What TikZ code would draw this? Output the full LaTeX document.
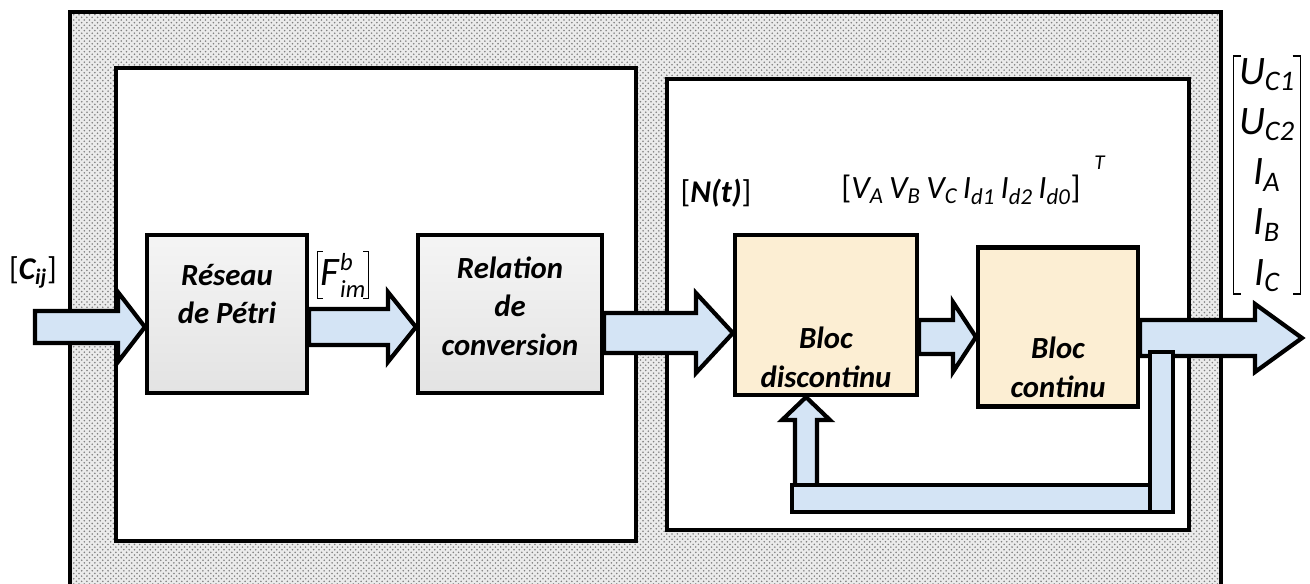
\documentclass[tikz,border=0pt]{standalone}
\usepackage{fontspec}
\setmainfont{Carlito}
\usetikzlibrary{calc, patterns}

\definecolor{flowblue}{RGB}{212,228,245}
\definecolor{blocbeige}{RGB}{252,238,211}

% Wide block arrow: from, tip, half shaft, half head, head length.
\newcommand{\blockarrow}[5]{%
    \draw[flowarrow] ($(#1)+(0,-#3)$) -- ($(#2)+(-#5,-#3)$)
        -- ($(#2)+(-#5,-#4)$) -- (#2) -- ($(#2)+(-#5,#4)$)
        -- ($(#2)+(-#5,#3)$) -- ($(#1)+(0,#3)$) -- cycle;
}

\begin{document}
\begin{tikzpicture}[%
        x = 0.02cm, y = -0.02cm,
        frame/.style = {draw, line width = 2.4pt},
        marblebox/.style = {%
            draw, line width = 2.4pt, inner sep = 0pt,
            top color = gray!8, bottom color = gray!22
        },
        beigebox/.style = {%
            draw, line width = 2.4pt, inner sep = 0pt, fill = blocbeige
        },
        flowarrow/.style = {draw, line width = 2.4pt, fill = flowblue, line join = miter},
        blocktext/.style = {%
            align = center,
            font = \fontsize{17.5}{22}\selectfont\bfseries\itshape
        },
        sig/.style = {inner sep = 1pt, font = \fontsize{18}{20}\selectfont},
        bracket/.style = {line width = 0.8pt}
    ]

        \useasboundingbox (0,0) rectangle (1310,584);

        % Dotted outer frame and the two white sub-systems.
        \draw[frame, preaction = {fill = gray!16}, pattern = crosshatch dots, pattern color = gray]
            (70,12) rectangle (1221,620);
        \draw[frame, fill = white] (116,68) rectangle (636,541);
        \draw[frame, fill = white] (667,79) rectangle (1189,530);

        % Blocks.
        \node[marblebox, minimum width = 3.2cm, minimum height = 3.16cm]
            (petri) at (227,314) {};
        \node[marblebox, minimum width = 3.68cm, minimum height = 3.16cm]
            (conv) at (510,314) {};
        \node[beigebox, minimum width = 3.64cm, minimum height = 3.2cm]
            (disc) at (826,315) {};
        \node[beigebox, minimum width = 3.2cm, minimum height = 3.18cm]
            (cont) at (1058,327) {};

        % End points of the arrows.
        \coordinate (cin)   at (35,327);
        \coordinate (a1)    at ($(petri.west)+(0,13)$);
        \coordinate (a2s)   at ($(petri.east)+(0,13)$);
        \coordinate (a2)    at ($(conv.west)+(0,13)$);
        \coordinate (a3s)   at ($(conv.east)+(0,19)$);
        \coordinate (a3)    at ($(disc.west)+(0,18)$);
        \coordinate (a4s)   at ($(disc.east)+(0,22)$);
        \coordinate (a4)    at ($(cont.west)+(0,10)$);
        \coordinate (a5s)   at ($(cont.east)+(0,11)$);
        \coordinate (cout)  at (1302,338);

        \blockarrow{cin}{a1}{16}{35}{27}
        \blockarrow{a2s}{a2}{18}{35}{28}
        \blockarrow{a3s}{a3}{20}{40}{37}
        \blockarrow{a4s}{a4}{17}{35}{23}
        \blockarrow{a5s}{cout}{18}{34}{47}

        % Feedback loop back to the discontinuous block.
        \coordinate (fbtip) at ($(disc.south)+(-20,0)$);
        \draw[flowarrow] ($(fbtip)+(-11,90)$) -- ($(fbtip)+(-11,23)$)
            -- ($(fbtip)+(-24,23)$) -- (fbtip) -- ($(fbtip)+(24,23)$)
            -- ($(fbtip)+(11,23)$) -- ($(fbtip)+(11,90)$) -- cycle;
        \draw[flowarrow] (792,485) rectangle (1150,512);
        \draw[flowarrow] (1150,352) rectangle (1173,512);

        % Blocks again over the arrow tips, with their texts.
        \node[marblebox, minimum width = 3.2cm, minimum height = 3.16cm]
            at (petri) {};
        \node[marblebox, minimum width = 3.68cm, minimum height = 3.16cm]
            at (conv) {};
        \node[beigebox, minimum width = 3.64cm, minimum height = 3.2cm]
            at (disc) {};
        \node[beigebox, minimum width = 3.2cm, minimum height = 3.18cm]
            at (cont) {};
        \node[blocktext] (petritxt) at ($(petri)+(0,-20)$) {Réseau\\de Pétri};
        \node[blocktext] (convtxt)  at ($(conv)+(0,-8)$)   {Relation\\de\\conversion};
        \node[blocktext] (disctxt)  at ($(disc)+(0,42)$)   {Bloc\\discontinu};
        \node[blocktext] (conttxt)  at ($(cont)+(0,40)$)   {Bloc\\continu};

        % Signals.
        \node[sig] (cij) at (33,272) {[\textbf{\textit{C\textsubscript{ij}}}]};
        \node[sig] (nt)  at (716,193) {[\textbf{\textit{N(t)}}]};

        \node[sig, font = \fontsize{23}{24}\selectfont, inner xsep = 1.5pt, inner ysep = 0.5pt] (fim) at (343,275)
            {\textit{F}\rlap{\raisebox{0.8ex}{\fontsize{14}{14}\selectfont\textit{b}}}\raisebox{-0.6ex}{\fontsize{14}{14}\selectfont\textit{im}}};
        \draw[bracket] ($(fim.north west)+(5,0)$) -- (fim.north west)
            -- (fim.south west) -- ($(fim.south west)+(5,0)$);
        \draw[bracket] ($(fim.north east)+(-5,0)$) -- (fim.north east)
            -- (fim.south east) -- ($(fim.south east)+(-5,0)$);

        \node[sig, font = \fontsize{18.5}{20}\selectfont] (vvec) at (961,190)
            {[\textit{V\textsubscript{A}\,V\textsubscript{B}\,V\textsubscript{C}\,%
              I\textsubscript{d1}\,I\textsubscript{d2}\,I\textsubscript{d0}}]};
        \node[sig, font = \fontsize{12}{14}\selectfont] (vT) at (1100,163) {\textit{T}};

        \node[sig, align = center, font = \fontsize{23}{28.6}\selectfont\itshape, inner xsep = 3pt]
            (uvec) at (1267,175)
            {U\textsubscript{C1}\\U\textsubscript{C2}\\I\textsubscript{A}\\I\textsubscript{B}\\I\textsubscript{C}};
        \draw[bracket] ($(uvec.north west)+(8,0)$) -- (uvec.north west)
            -- (uvec.south west) -- ($(uvec.south west)+(8,0)$);
        \draw[bracket] ($(uvec.north east)+(-8,0)$) -- (uvec.north east)
            -- (uvec.south east) -- ($(uvec.south east)+(-8,0)$);
    \end{tikzpicture}
\end{document}
